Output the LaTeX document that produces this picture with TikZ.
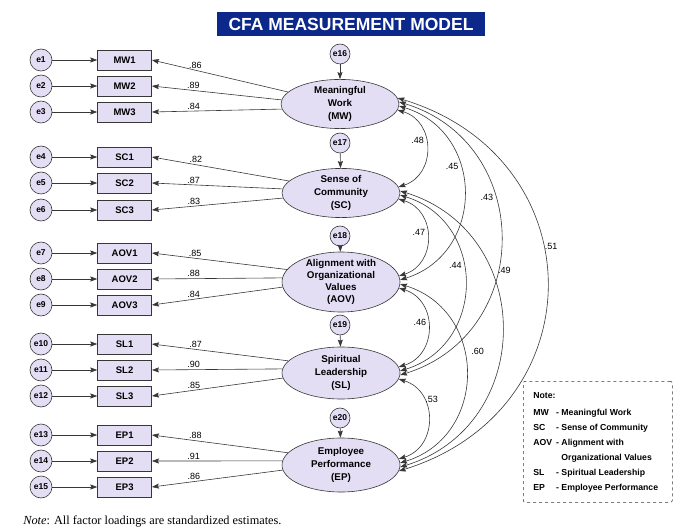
\documentclass[tikz,border=0pt]{standalone}
\usepackage{fontspec}
\setmainfont{Liberation Sans}
\newfontfamily\notefont{Liberation Serif}
\usetikzlibrary{arrows.meta, positioning, shapes.geometric}

\definecolor{lav}{RGB}{228,222,245}
\definecolor{navyblue}{RGB}{12,40,138}
\definecolor{edgegray}{RGB}{55,55,55}

\tikzset{
  err/.style={circle, draw=edgegray, fill=lav, minimum size=22pt, inner sep=0pt,
    font=\fontsize{8.5}{9}\selectfont\bfseries},
  ferr/.style={err, minimum size=20pt},
  ind/.style={rectangle, draw=edgegray, fill=lav, minimum width=54pt, minimum height=20pt,
    inner sep=0pt, font=\fontsize{9.5}{10}\selectfont\bfseries},
  lat/.style={ellipse, draw=edgegray, fill=lav, minimum width=118pt, minimum height=49pt,
    inner sep=0pt, align=center, font=\fontsize{9.8}{12.8}\selectfont\bfseries},
  load/.style={->, draw=edgegray},
  corr/.style={<->, draw=edgegray, bend left=73, looseness=1.32},
  est/.style={font=\fontsize{9}{10}\selectfont, inner sep=1.5pt},
}

\begin{document}
\begin{tikzpicture}[x=1pt, y=-1pt, node distance=45pt, line width=0.6pt,
  >={Stealth[length=7pt, width=5pt, inset=1pt]}]
\useasboundingbox (0,0) rectangle (677,529);

\node[fill=navyblue, text=white, minimum width=268pt, minimum height=24pt,
  font=\fontsize{17.5}{19}\selectfont\bfseries] (title) at (351,24) {CFA MEASUREMENT MODEL};

% indicators with their errors
\foreach \n/\b/\y in {1/MW1/60, 2/MW2/86, 3/MW3/112, 4/SC1/157, 5/SC2/183, 6/SC3/210,
  7/AOV1/253, 8/AOV2/279, 9/AOV3/305, 10/SL1/344, 11/SL2/370, 12/SL3/396,
  13/EP1/435, 14/EP2/461, 15/EP3/487}{
  \node[err] (e\n) at (41,\y) {e\n};
  \node[ind, right=of e\n] (\b) {\b};
  \draw[load] (e\n) -- (\b);
}

% latent factors
\node[lat] (MW) at (340,104) {Meaningful\\Work\\(MW)};
\node[lat] (SC) at (341,193) {Sense of\\Community\\(SC)};
\node[lat, minimum height=60pt, inner ysep=-8pt, font=\fontsize{9.8}{12}\selectfont\bfseries]
  (AOV) at (341,282) {Alignment with\\Organizational\\Values\\(AOV)};
\node[lat, minimum height=52pt] (SL) at (341,373) {Spiritual\\Leadership\\(SL)};
\node[lat, minimum height=54pt] (EP) at (341,465) {Employee\\Performance\\(EP)};

\node[ferr] (e16) at (340,54) {e16};
\node[ferr] (e17) at (340,143) {e17};
\node[ferr] (e18) at (340,236) {e18};
\node[ferr] (e19) at (340,325) {e19};
\node[ferr] (e20) at (340,418) {e20};
\draw[load] (e16) -- (MW);
\draw[load] (e17) -- (SC);
\draw[load] (e18) -- (AOV);
\draw[load] (e19) -- (SL);
\draw[load] (e20) -- (EP);

% factor loadings
\foreach \f/\b/\a/\v in {MW/MW1/167/.86, MW/MW2/176/.89, MW/MW3/185/.84,
  SC/SC1/167/.82, SC/SC2/176/.87, SC/SC3/185/.83,
  AOV/AOV1/167/.85, AOV/AOV2/176/.88, AOV/AOV3/185/.84,
  SL/SL1/167/.87, SL/SL2/176/.90, SL/SL3/185/.85,
  EP/EP1/167/.88, EP/EP2/176/.91, EP/EP3/185/.86}{
  \draw[load] (\f.\a) -- node[est, above, pos=0.68] {\v} (\b.east);
}

% correlations
\draw[corr] (MW.-6) to node[est, left, pos=0.42] {.48} (SC.6);
\draw[corr] (MW.-2) to node[est, left, pos=0.38] {.45} (AOV.2);
\draw[corr] (MW.2) to node[est, left, pos=0.38] {.43} (SL.-2);
\draw[corr, looseness=1.42] (MW.6) to node[est, right, pos=0.42] {.51} (EP.-6);
\draw[corr] (SC.-6) to node[est, left, pos=0.45] {.47} (AOV.6);
\draw[corr] (SC.-2) to node[est, left, pos=0.42] {.44} (SL.2);
\draw[corr] (SC.2) to node[est, right=6pt, pos=0.33] {.49} (EP.-2);
\draw[corr] (AOV.-6) to node[est, left, pos=0.45] {.46} (SL.6);
\draw[corr] (AOV.-2) to node[est, right=6pt, pos=0.4] {.60} (EP.2);
\draw[corr] (SL.-6) to node[est, right, pos=0.3] {.53} (EP.6);

% legend
\node[draw=edgegray, dashed, rounded corners=2pt, minimum width=149pt, minimum height=121pt,
  anchor=north west] (legend) at (523,381) {};
\node[below right=7pt and 10pt of legend.north west, inner sep=0pt, align=left,
  font=\fontsize{8.7}{15}\selectfont\bfseries] (legtext)
  {\begin{tabular}{@{}l@{\hspace{4pt}}l@{}}
   \multicolumn{2}{@{}l}{Note:}\\[2pt]
   MW & - Meaningful Work\\
   SC & - Sense of Community\\
   AOV & - Alignment with\\
       & \phantom{- }Organizational Values\\
   SL & - Spiritual Leadership\\
   EP & - Employee Performance
   \end{tabular}};

\node[anchor=west, inner sep=0pt, font=\notefont\fontsize{12.3}{14}\selectfont] (footnote)
  at (23,521) {\textit{Note}: All factor loadings are standardized estimates.};
\end{tikzpicture}
\end{document}
